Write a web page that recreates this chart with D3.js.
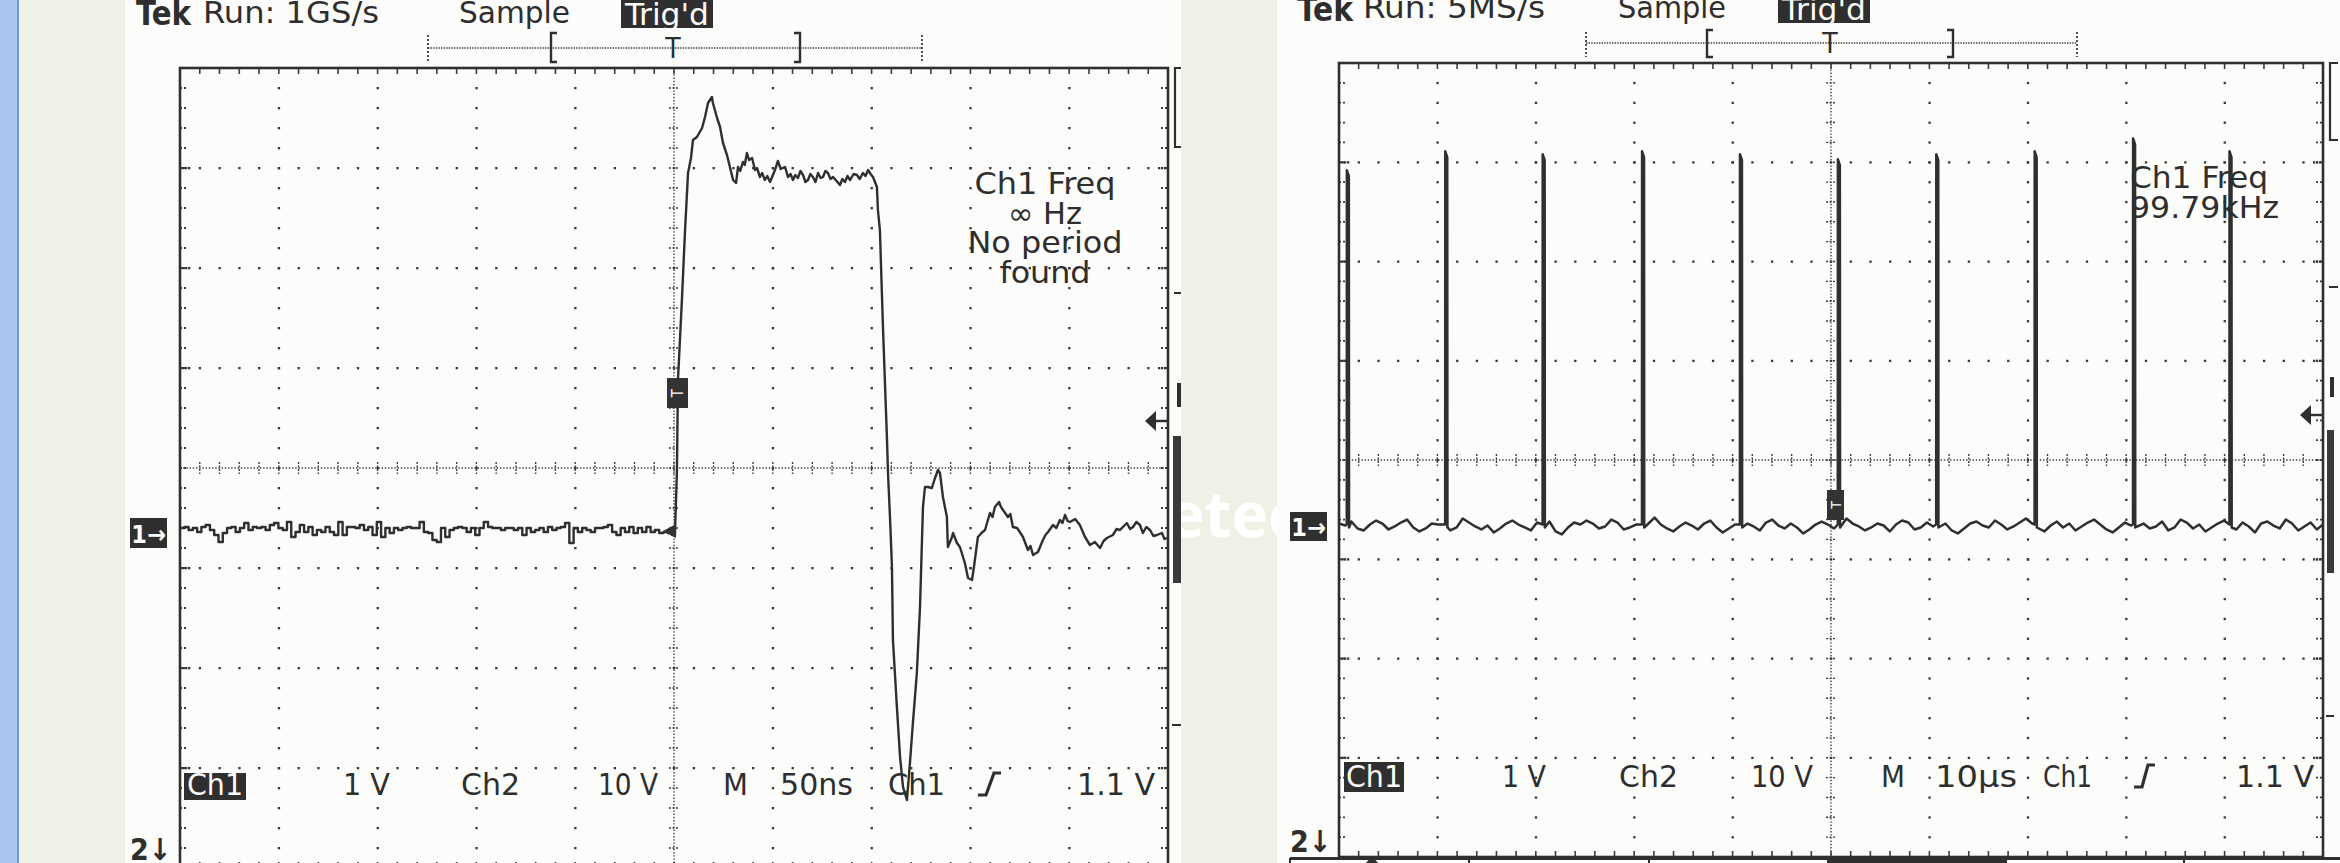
<!DOCTYPE html>
<html><head><meta charset="utf-8">
<script src="https://cdn.jsdelivr.net/npm/d3@7"></script>
<style>
html,body{margin:0;padding:0;background:#eef1e5;overflow:hidden;}
svg{display:block}
.t{font-family:"DejaVu Sans Condensed","DejaVu Sans",sans-serif;font-stretch:condensed;fill:#2e2e2e;}
</style></head><body><svg id="c" width="2340" height="863"></svg>
<script>
// ================= DATA =================
const leftTitle  = ["Tek", "Run: 1GS/s", "Sample", "Trig'd"];
const rightTitle = ["Tek", "Run: 5MS/s", "Sample", "Trig'd"];
const leftReadout  = ["Ch1 Freq", "∞ Hz", "No period", "found"];
const rightReadout = ["Ch1 Freq", "99.79kHz"];
const leftStatus  = ["Ch1", "1 V", "Ch2", "10 V", "M", "50ns", "Ch1", "1.1 V"];
const rightStatus = ["Ch1", "1 V", "Ch2", "10 V", "M", "10µs", "Ch1", "1.1 V"];
const overlayWord = "Detected";

// Left trace: Ch1 1 V/div, 50 ns/div. Baseline noise before trigger (V), evenly spaced over -250..-1 ns
const leftBaselineV = [0.03,0.04,0.01,0.03,-0.01,0.04,0.06,0.01,-0.04,-0.11,-0.02,0.03,0.04,-0.01,0.03,0.08,0.01,0.04,0.03,0.04,
0.01,0.06,0.08,0.03,0.01,0.09,-0.06,-0.01,0.06,-0.01,0.04,-0.04,0.01,-0.01,0.04,-0.01,-0.04,0.09,-0.04,0.04,
0.04,0.03,0.06,0.01,0.04,-0.04,0.09,-0.06,0.03,-0.02,0.03,0.01,0.03,0.04,0.03,0.03,0.09,-0.01,-0.02,-0.09,
-0.11,0.03,-0.06,0.01,0.03,0.04,0.03,-0.01,0.03,-0.04,0.03,0.09,0.04,0.03,0.03,0.01,0.03,0.03,0.01,0.03,
-0.04,0.03,-0.01,0.01,0.03,-0.01,0.04,0.01,0.03,0.04,0.08,-0.12,0.03,-0.01,0.03,0.01,-0.01,0.03,0.03,0.04,
0.06,-0.01,-0.04,0.03,-0.01,0.04,-0.02,0.03,-0.01,0.04,-0.01,0.01,-0.02,-0.01,-0.02,-0.04];

// Left pulse after trigger: [time ns, volts]
const leftPulse = [[0.5,-0.02],[1.5,0.61],[2.0,1.51],[4.0,2.31],[5.6,3.01],[7.1,3.58],[8.6,3.73],[9.6,3.91],[11.6,3.94],
[14.2,4.03],[15.7,4.14],[17.2,4.28],[19.2,4.34],[19.7,4.28],[21.8,4.13],[23.3,4.04],[24.8,3.88],[26.8,3.76],[28.3,3.64],
[29.9,3.51],[31.4,3.48],[32.4,3.64],[33.5,3.60],[34.9,3.69],[35.8,3.66],[36.9,3.78],[38.0,3.71],[39.5,3.73],[41.0,3.61],
[42.0,3.63],[43.5,3.54],[44.6,3.58],[46.0,3.51],[47.2,3.55],[48.6,3.49],[51.1,3.61],[52.6,3.70],[54.0,3.62],[56.2,3.64],
[57.7,3.54],[59.0,3.57],[60.2,3.51],[61.4,3.56],[62.7,3.53],[64.0,3.60],[65.3,3.56],[66.5,3.49],[67.8,3.51],[69.0,3.57],
[70.3,3.54],[71.6,3.49],[72.9,3.58],[74.2,3.53],[75.4,3.54],[76.6,3.60],[77.9,3.58],[79.2,3.52],[80.5,3.54],[82.3,3.50],
[84.0,3.46],[85.2,3.52],[86.5,3.49],[87.8,3.55],[89.1,3.51],[90.9,3.57],[92.6,3.56],[94.0,3.52],[95.6,3.58],[96.9,3.55],
[98.2,3.61],[99.5,3.57],[100.7,3.54],[102.7,3.44],[103.2,3.21],[104.2,3.01],[105.8,2.01],[107.8,0.91],[108.3,0.58],
[109.3,0.14],[110.3,-0.36],[110.8,-1.09],[112.8,-1.76],[114.4,-2.26],[115.9,-2.56],[117.9,-2.69],[119.4,-2.32],
[120.9,-1.92],[122.9,-1.42],[124.5,-0.76],[125.5,-0.09],[126.0,0.24],[127.0,0.44],[128.5,0.44],[130.5,0.43],[132.1,0.53],
[133.6,0.61],[134.6,0.58],[136.1,0.34],[138.1,0.14],[138.6,-0.16],[140.7,-0.06],[141.2,-0.02],[143.2,-0.12],[144.7,-0.16],
[147.2,-0.32],[148.8,-0.47],[150.8,-0.49],[151.8,-0.36],[153.8,-0.06],[155.6,-0.02],[157.4,0.01],[159.9,0.18],[161.2,0.14],
[162.4,0.24],[164.5,0.29],[165.5,0.24],[166.5,0.21],[169.0,0.14],[170.2,0.17],[171.5,0.04],[173.6,0.03],[175.0,-0.01],
[176.6,-0.06],[179.1,-0.19],[180.4,-0.15],[181.7,-0.24],[184.2,-0.21],[186.7,-0.09],[188.0,-0.04],[189.3,-0.01],
[191.8,0.06],[193.5,0.03],[195.3,0.11],[196.6,0.08],[197.9,0.16],[199.2,0.10],[200.4,0.09],[203.0,0.12],[205.4,0.06],
[208.0,-0.06],[210.5,-0.14],[213.0,-0.11],[215.6,-0.17],[217.4,-0.10],[219.1,-0.07],[222.1,-0.04],[224.0,0.02],
[225.7,0.01],[229.2,0.08],[230.8,0.02],[232.3,0.04],[234.0,0.09],[235.8,0.06],[237.3,-0.02],[239.0,0.04],[240.9,0.01],
[242.6,-0.05],[244.4,-0.04],[246.9,-0.02],[248.2,-0.08],[249.5,-0.07]];

// Right trace: Ch1 1 V/div, 10 us/div. Pulse spikes [time us, peak volts]
const rightSpikes = [[-49.2,3.58],[-39.2,3.77],[-29.3,3.74],[-19.2,3.77],[-9.25,3.74],[0.7,3.69],[10.7,3.74],[20.7,3.77],[30.7,3.90],[40.5,3.77]];
// Right baseline noise (V), evenly spaced over -50..50 us
const rightNoiseV = [0.02,0.00,0.04,-0.03,-0.05,0.01,0.05,0.02,-0.04,-0.01,
0.03,0.06,-0.02,-0.06,-0.03,0.02,0.01,0.04,-0.05,-0.02,
0.07,0.03,-0.01,-0.04,0.00,-0.07,-0.03,0.02,0.05,0.01,
-0.02,-0.05,0.03,0.00,0.04,-0.06,-0.09,-0.02,0.03,0.01,
0.05,0.02,-0.03,-0.01,0.06,0.03,-0.04,-0.02,0.01,-0.05,
0.02,0.08,0.01,-0.03,-0.06,-0.01,0.03,0.00,-0.04,0.02,
0.05,-0.02,-0.07,-0.03,0.01,0.04,0.02,-0.01,-0.05,0.03,
0.06,0.00,-0.03,0.02,-0.02,-0.08,-0.04,0.01,0.04,0.01,
-0.03,0.03,0.07,0.02,-0.01,-0.05,-0.02,0.02,0.00,-0.06,
0.01,0.05,0.03,-0.04,-0.02,0.03,-0.01,0.06,0.02,-0.05,
-0.08,-0.03,0.02,0.04,0.00,-0.02,0.05,0.01,-0.04,-0.01,
0.03,0.07,0.02,-0.03,-0.06,0.00,0.04,-0.02,0.02,-0.05,
-0.01,0.03,0.06,0.01,-0.04,-0.07,-0.02,0.03,0.00,0.05,
0.02,-0.03,-0.01,0.04,-0.05,-0.02,0.06,0.03,-0.03,0.01,
-0.06,-0.02,0.02,0.05,0.01,-0.04,0.03,-0.01,-0.07,0.02,
0.04,0.00,-0.03,0.06,0.02,-0.05,-0.01,0.03,-0.04,0.01];

// ================= LAYOUT =================
const INK = "#2f2f2f";
const svg = d3.select("#c");
const defs = svg.append("defs");

const panels = [
  { id:"L", paper:[125,1181], f:{x0:180,x1:1168,y0:68,y1:868}, tDomain:[-250,250], vDomain:[-3.37,4.63],
    title:leftTitle, titleX:[136,203,459,621], titleW:[55,176,111,92], titleBase:[25,23,23], trigBox:[621,0,92,28],
    bar:{y:48,x0:428,x1:922,lb:551,rb:800,t:673,top:33,bot:62},
    readout:leftReadout, readAnchor:"middle", readX:1045, readBase:[194,224,253,283], readW:[141,74,155,91],
    status:leftStatus, statusX:[187,343,461,598,723,780,888,1077], statusW:[56,47,59,60,25,73,57,78], statusBase:795,
    chBox:[184,773,62,27], edge:[981,999,773,795],
    one:[130,518,37,30], two:[130,860],
    trig:[667,378,21,30],
    side:{bx:1175,bx2:1181,bTop:68,bBot:147,dash1:293,iY:[383,407],iX:1177,arrowY:421,arrowX:1145,barX:[1173,1181],barY:[436,583],dash2:725}
  },
  { id:"R", paper:[1277,2340], f:{x0:1339,x1:2323,y0:63,y1:857}, tDomain:[-50,50], vDomain:[-3.34,4.66],
    title:rightTitle, titleX:[1297,1363,1618,1778], titleW:[56,182,108,92], titleBase:[21,18,18], trigBox:[1778,0,92,23],
    bar:{y:43,x0:1586,x1:2077,lb:1707,rb:1953,t:1830,top:30,bot:57},
    readout:rightReadout, readAnchor:"start", readX:2130, readBase:[188,218], readW:[138,149],
    status:rightStatus, statusX:[1346,1502,1619,1751,1881,1935,2043,2236], statusW:[56,44,59,62,24,82,49,78], statusBase:787,
    chBox:[1344,762,60,30], edge:[2137,2153,765,787],
    one:[1290,512,37,29], two:[1290,852],
    trig:[1827,490,17,30],
    side:{bx:2330,bx2:2338,bTop:63,bBot:140,dash1:287,iY:[377,397],iX:2330,arrowY:415,arrowX:2300,barX:[2327,2334],barY:[430,573],dash2:716}
  }
];

// background: blue window edge
svg.append("rect").attr("x",0).attr("y",0).attr("width",17).attr("height",863).attr("fill","#a9c7ee");
svg.append("rect").attr("x",17).attr("y",0).attr("width",2).attr("height",863).attr("fill","#6f9ddc");

defs.append("clipPath").attr("id","gapClip").append("rect").attr("x",1181).attr("y",0).attr("width",96).attr("height",863);

panels.forEach(P => {
  const g = svg.append("g");
  g.append("rect").attr("x",P.paper[0]).attr("y",0).attr("width",P.paper[1]-P.paper[0]).attr("height",863).attr("fill","#fcfcfa");
  const f = P.f;
  const xs = d3.scaleLinear().domain(P.tDomain).range([f.x0,f.x1]);
  const ys = d3.scaleLinear().domain(P.vDomain).range([f.y1,f.y0]);
  P.xs = xs; P.ys = ys;

  // ---- grid ----
  const nx=10, ny=8;
  const [t0,t1]=P.tDomain, [v0,v1]=P.vDomain;
  const xMaj = d3.range(nx+1).map(i=>xs(t0+i*(t1-t0)/nx));
  const yMaj = d3.range(ny+1).map(j=>ys(v0+j*(v1-v0)/ny));
  const xMin = d3.range(nx*5+1).map(i=>xs(t0+i*(t1-t0)/(nx*5)));
  const yMin = d3.range(ny*5+1).map(j=>ys(v0+j*(v1-v0)/(ny*5)));
  const gg = g.append("g");
  const dots = [];
  xMaj.forEach((x,i)=>{ if(i===0||i===nx||i===nx/2) return; yMin.forEach((y,k)=>{ if(k>0&&k<ny*5 && y<863) dots.push([x,y]); }); });
  yMaj.forEach((y,j)=>{ if(j===0||j===ny||j===ny/2) return; xMin.forEach((x,k)=>{ if(k>0&&k<nx*5) dots.push([x,y]); });
     [3,6,9].forEach(o=>{ dots.push([f.x0+o,y]); dots.push([f.x1-o,y]); }); });
  gg.selectAll("rect.d").data(dots).join("rect").attr("x",d=>d[0]-1).attr("y",d=>d[1]-1).attr("width",2.3).attr("height",2.3).attr("fill","#383838");
  const cx = xMaj[nx/2], cy = yMaj[ny/2];
  gg.append("line").attr("x1",f.x0).attr("x2",f.x1).attr("y1",cy).attr("y2",cy).attr("stroke","#3c3c3c").attr("stroke-width",1.4).attr("stroke-dasharray","1.4 1.8");
  gg.append("line").attr("x1",cx).attr("x2",cx).attr("y1",f.y0).attr("y2",f.y1).attr("stroke","#3c3c3c").attr("stroke-width",1.4).attr("stroke-dasharray","1.4 1.8");
  gg.selectAll("line.cxt").data(xMin.slice(1,-1)).join("line").attr("x1",d=>d).attr("x2",d=>d).attr("y1",cy-6).attr("y2",cy+6).attr("stroke","#3c3c3c").attr("stroke-width",1.4).attr("stroke-dasharray","2 1.5");
  gg.selectAll("line.cyt").data(yMin.slice(1,-1)).join("line").attr("x1",cx-5).attr("x2",cx+5).attr("y1",d=>d).attr("y2",d=>d).attr("stroke","#3c3c3c").attr("stroke-width",1.4).attr("stroke-dasharray","2 1.5");
  // edge ticks
  gg.selectAll("line.top").data(xMin.slice(1,-1)).join("line").attr("x1",d=>d).attr("x2",d=>d).attr("y1",f.y0).attr("y2",f.y0+6).attr("stroke","#3c3c3c").attr("stroke-width",1.6);
  gg.selectAll("line.bot").data(xMin.slice(1,-1)).join("line").attr("x1",d=>d).attr("x2",d=>d).attr("y1",f.y1-6).attr("y2",f.y1).attr("stroke","#3c3c3c").attr("stroke-width",1.6);
  gg.selectAll("line.lft").data(yMin.slice(1,-1)).join("line").attr("x1",f.x0).attr("x2",f.x0+7).attr("y1",d=>d).attr("y2",d=>d).attr("stroke","#3c3c3c").attr("stroke-width",1.8).attr("stroke-dasharray","2 2");
  gg.selectAll("line.rgt").data(yMin.slice(1,-1)).join("line").attr("x1",f.x1-7).attr("x2",f.x1).attr("y1",d=>d).attr("y2",d=>d).attr("stroke","#3c3c3c").attr("stroke-width",1.8).attr("stroke-dasharray","2 2");
  // frame
  gg.append("rect").attr("x",f.x0).attr("y",f.y0).attr("width",f.x1-f.x0).attr("height",f.y1-f.y0).attr("fill","none").attr("stroke",INK).attr("stroke-width",2.6);

  // ---- header ----
  const h = g.append("g");
  h.append("rect").attr("x",P.trigBox[0]).attr("y",P.trigBox[1]).attr("width",P.trigBox[2]).attr("height",P.trigBox[3]).attr("fill",INK);
  P.title.forEach((s,i)=>{
    const t = h.append("text").attr("class","t").attr("x",P.titleX[i]+(i===3?4:0)).attr("y",i===0?P.titleBase[0]:(i===3?P.trigBox[3]-3:P.titleBase[i]))
      .attr("font-size",i===0?33:30).attr("font-weight",i===0?"bold":"normal").text(s)
      .attr("textLength",i===3?P.titleW[i]-8:P.titleW[i]).attr("lengthAdjust","spacingAndGlyphs");
    if(i===3) t.style("fill","#fcfcfa");
  });
  const b = P.bar;
  h.append("line").attr("x1",b.x0).attr("x2",b.x1).attr("y1",b.y).attr("y2",b.y).attr("stroke","#3c3c3c").attr("stroke-width",1.6).attr("stroke-dasharray","1.4 1.2");
  [b.x0,b.x1].forEach(x=>h.append("line").attr("x1",x).attr("x2",x).attr("y1",b.top+2).attr("y2",b.bot).attr("stroke","#3c3c3c").attr("stroke-width",1.8).attr("stroke-dasharray","2 2"));
  h.append("path").attr("d",`M${b.lb+6},${b.top}H${b.lb}V${b.bot}H${b.lb+6}`).attr("fill","none").attr("stroke",INK).attr("stroke-width",2.4);
  h.append("path").attr("d",`M${b.rb-6},${b.top}H${b.rb}V${b.bot}H${b.rb-6}`).attr("fill","none").attr("stroke",INK).attr("stroke-width",2.4);
  h.append("text").attr("class","t").attr("x",b.t).attr("y",b.bot-4).attr("text-anchor","middle").attr("font-size",28).text("T");

  // ---- readouts ----
  P.readout.forEach((s,i)=>{
    g.append("text").attr("class","t").attr("x",P.readX).attr("y",P.readBase[i]).attr("text-anchor",P.readAnchor)
      .attr("font-size",30).attr("textLength",P.readW[i]).attr("lengthAdjust","spacingAndGlyphs").text(s);
  });

  // ---- status line ----
  g.append("rect").attr("x",P.chBox[0]).attr("y",P.chBox[1]).attr("width",P.chBox[2]).attr("height",P.chBox[3]).attr("fill",INK);
  P.status.forEach((s,i)=>{
    const t = g.append("text").attr("class","t").attr("x",P.statusX[i]).attr("y",P.statusBase).attr("font-size",30)
      .attr("textLength",P.statusW[i]).attr("lengthAdjust","spacingAndGlyphs").text(s);
    if(i===0) t.style("fill","#fcfcfa");
  });
  const e = P.edge;
  g.append("path").attr("d",`M${e[0]-3},${e[3]}H${e[0]+5}L${e[1]-5},${e[2]}H${e[1]+2}`).attr("fill","none").attr("stroke",INK).attr("stroke-width",3.2);

  // ---- channel markers ----
  g.append("rect").attr("x",P.one[0]).attr("y",P.one[1]).attr("width",P.one[2]).attr("height",P.one[3]).attr("fill",INK);
  g.append("text").attr("class","t").attr("x",P.one[0]+P.one[2]/2).attr("y",P.one[1]+P.one[3]-5).attr("text-anchor","middle")
    .attr("font-size",25).attr("font-weight","bold").style("fill","#fcfcfa").text("1→");
  g.append("text").attr("class","t").attr("x",P.two[0]).attr("y",P.two[1]).attr("font-size",30).attr("font-weight","bold").text("2↓");

  // ---- right side indicators ----
  const sd = P.side;
  g.append("path").attr("d",`M${sd.bx2},${sd.bTop}H${sd.bx}V${sd.bBot}H${sd.bx2}`).attr("fill","none").attr("stroke",INK).attr("stroke-width",2.2);
  g.append("line").attr("x1",sd.bx-1).attr("x2",sd.bx2).attr("y1",sd.dash1).attr("y2",sd.dash1).attr("stroke",INK).attr("stroke-width",2);
  g.append("rect").attr("x",sd.iX).attr("y",sd.iY[0]).attr("width",4).attr("height",sd.iY[1]-sd.iY[0]).attr("fill",INK);
  g.append("line").attr("x1",sd.arrowX+8).attr("x2",f.x1).attr("y1",sd.arrowY).attr("y2",sd.arrowY).attr("stroke",INK).attr("stroke-width",2.4);
  g.append("path").attr("d",`M${sd.arrowX},${sd.arrowY}L${sd.arrowX+11},${sd.arrowY-10}L${sd.arrowX+11},${sd.arrowY+10}Z`).attr("fill",INK);
  g.append("rect").attr("x",sd.barX[0]).attr("y",sd.barY[0]).attr("width",sd.barX[1]-sd.barX[0]).attr("height",sd.barY[1]-sd.barY[0]).attr("fill","#3a3a3a");
  g.append("line").attr("x1",sd.barX[0]-1).attr("x2",sd.barX[1]).attr("y1",sd.dash2).attr("y2",sd.dash2).attr("stroke",INK).attr("stroke-width",2);

  defs.append("clipPath").attr("id","clip"+P.id).append("rect").attr("x",f.x0).attr("y",f.y0).attr("width",f.x1-f.x0).attr("height",f.y1-f.y0);
});

// ================= TRACES =================
const lineFn = (P, curve)=>d3.line().x(d=>P.xs(d[0])).y(d=>P.ys(d[1])).curve(curve);

// left
(function(){
  const P = panels[0];
  const n = leftBaselineV.length;
  const base = leftBaselineV.map((v,i)=>[-250 + i*(249/(n-1)), v]).concat([leftPulse[0]]);
  svg.append("path").attr("clip-path","url(#clipL)").attr("d",lineFn(P,d3.curveStepAfter)(base)).attr("fill","none")
    .attr("stroke",INK).attr("stroke-width",2.4).attr("stroke-linejoin","round");
  svg.append("path").attr("clip-path","url(#clipL)").attr("d",lineFn(P,d3.curveLinear)(leftPulse)).attr("fill","none")
    .attr("stroke",INK).attr("stroke-width",2.4).attr("stroke-linejoin","round");
  const tr = P.trig;
  svg.append("rect").attr("x",tr[0]).attr("y",tr[1]).attr("width",tr[2]).attr("height",tr[3]).attr("fill","#333");
  svg.append("text").attr("class","t").attr("transform",`translate(${tr[0]+tr[2]/2+5},${tr[1]+tr[3]/2}) rotate(-90)`)
    .attr("text-anchor","middle").attr("font-size",15).style("fill","#fcfcfa").text("T");
  const x0 = P.xs(0), y0 = P.ys(0);
  svg.append("path").attr("d",`M${x0-11},${y0}L${x0+2},${y0-7}L${x0+2},${y0+7}Z`).attr("fill","#333");
})();

// right
(function(){
  const P = panels[1];
  const n = rightNoiseV.length;
  let pts = rightNoiseV.map((v,i)=>[-50 + i*(100/(n-1)), v]);
  pts = pts.filter(p=>!rightSpikes.some(s=>p[0]>s[0]-0.15 && p[0]<s[0]+0.45));
  rightSpikes.forEach(s=>{
    pts.push([s[0]-0.01, 0.01],[s[0], s[1]],[s[0]+0.2, s[1]-0.06],[s[0]+0.22, -0.02]);
  });
  pts.sort((a,b)=>a[0]-b[0]);
  svg.append("path").attr("clip-path","url(#clipR)").attr("d",lineFn(P,d3.curveLinear)(pts)).attr("fill","none")
    .attr("stroke",INK).attr("stroke-width",2.5).attr("stroke-linejoin","round");
  const tr = P.trig;
  svg.append("rect").attr("x",tr[0]).attr("y",tr[1]).attr("width",tr[2]).attr("height",tr[3]).attr("fill","#333");
  svg.append("text").attr("class","t").attr("transform",`translate(${tr[0]+tr[2]/2+5},${tr[1]+tr[3]/2}) rotate(-90)`)
    .attr("text-anchor","middle").attr("font-size",14).style("fill","#fcfcfa").text("T");
  // bottom menu strip
  const m = svg.append("g");
  m.append("line").attr("x1",1290).attr("x2",2340).attr("y1",858.5).attr("y2",858.5).attr("stroke",INK).attr("stroke-width",3);
  m.append("rect").attr("x",1828).attr("y",858).attr("width",178).attr("height",5).attr("fill",INK);
  [1290,1469,1649,1828,2006,2184].forEach(x=>m.append("line").attr("x1",x).attr("x2",x).attr("y1",858).attr("y2",863).attr("stroke",INK).attr("stroke-width",2));
  m.append("path").attr("d","M1366,863L1372,856L1378,863Z").attr("fill",INK);
})();

// overlay word (white, visible only over the gap)
svg.append("text").attr("clip-path","url(#gapClip)").attr("x",1122).attr("y",537)
  .attr("font-family","'Open Sans','DejaVu Sans',sans-serif").attr("font-weight",700).attr("font-size",62)
  .attr("fill","#ffffff").text(overlayWord);
</script></body></html>
